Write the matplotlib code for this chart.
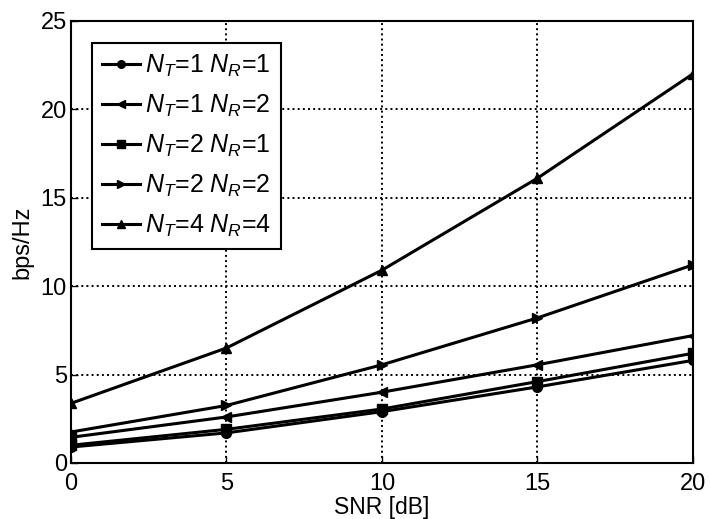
import matplotlib
matplotlib.use("Agg")
import matplotlib.pyplot as plt

plt.rcParams['font.family'] = ['Liberation Sans', 'DejaVu Sans']
plt.rcParams['mathtext.fontset'] = 'custom'
plt.rcParams['mathtext.it'] = 'Liberation Sans:italic'
plt.rcParams['mathtext.rm'] = 'Liberation Sans'

snr = [0, 5, 10, 15, 20]
labels = ['$N_T$=1 $N_R$=1', '$N_T$=1 $N_R$=2', '$N_T$=2 $N_R$=1',
          '$N_T$=2 $N_R$=2', '$N_T$=4 $N_R$=4']
nt1_nr1 = [0.9, 1.7, 2.9, 4.3, 5.8]
nt1_nr2 = [1.45, 2.6, 4.0, 5.55, 7.2]
nt2_nr1 = [1.0, 1.9, 3.05, 4.6, 6.2]
nt2_nr2 = [1.75, 3.25, 5.55, 8.2, 11.2]
nt4_nr4 = [3.37, 6.5, 10.9, 16.1, 22.0]
series = [nt1_nr1, nt1_nr2, nt2_nr1, nt2_nr2, nt4_nr4]
markers = ['o', '<', 's', '>', '^']

fig = plt.figure(figsize=(7.1, 5.19), dpi=100)
ax = fig.add_axes([0.100, 0.108, 0.876, 0.852])

for y, m, lab in zip(series, markers, labels):
    ax.plot(snr, y, color='black', lw=2.2, marker=m, ms=7, label=lab)

ax.set_xlim(0, 20)
ax.set_ylim(0, 25)
ax.set_xticks([0, 5, 10, 15, 20])
ax.set_yticks([0, 5, 10, 15, 20, 25])
ax.grid(True, color='black', linestyle=':', linewidth=1.4)
ax.tick_params(direction='in', labelsize=17, length=5, width=1, pad=3)
ax.tick_params(axis='x', pad=7)
for s in ax.spines.values():
    s.set_linewidth(1.5)
ax.set_xlabel('SNR [dB]', fontsize=16.5, labelpad=1)
ax.set_ylabel('bps/Hz', fontsize=17, labelpad=5)

leg = ax.legend(loc='upper left', fontsize=18, fancybox=False, framealpha=1,
                edgecolor='black', handlelength=1.5, handletextpad=0.2,
                labelspacing=0.55, borderpad=0.4, borderaxespad=0,
                bbox_to_anchor=(0.034, 0.95))
leg.get_frame().set_linewidth(1.5)
for h in leg.get_lines():
    h.set_markersize(5.5)

fig.savefig('out.png', dpi=100)
